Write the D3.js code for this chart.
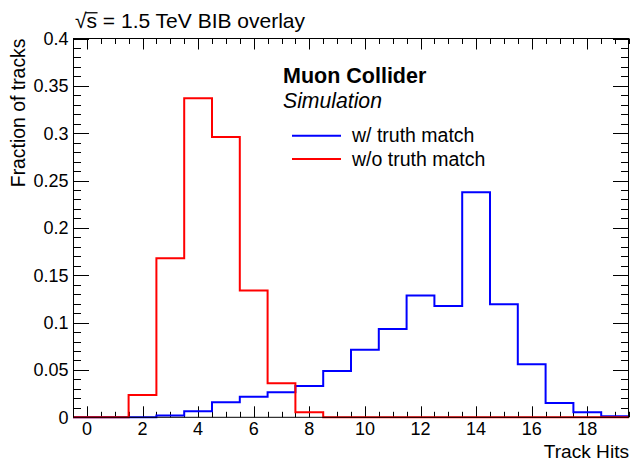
<!DOCTYPE html>
<html><head><meta charset="utf-8">
<script src="https://cdn.jsdelivr.net/npm/d3@7"></script>
<style>body{margin:0;background:#fff}svg{display:block}text{font-family:"Liberation Sans",Arial,sans-serif;fill:#000}</style>
</head><body>
<svg id="c" width="630" height="463"></svg>
<script>
const binCenters = d3.range(0, 20);
const withTruth = [0,0,0,0.002,0.0063,0.016,0.0218,0.0264,0.033,0.049,0.0714,0.0933,0.1285,0.1176,0.2376,0.1194,0.056,0.0151,0.0053,0.001];
const withoutTruth = [0,0,0.0236,0.168,0.337,0.296,0.134,0.0359,0.0053,0,0,0,0,0,0,0,0,0,0,0];
const xTickLabels = [0,2,4,6,8,10,12,14,16,18];
const yTickLabels = [0,0.05,0.1,0.15,0.2,0.25,0.3,0.35,0.4];
const seriesNames = ["w/ truth match","w/o truth match"];
const seriesColors = ["#0000ff","#ff0000"];

const L=73,R=629,T=38.5,B=417.3;
const svg=d3.select("#c");
const x=d3.scaleLinear().domain([-0.5,19.5]).range([L,R]);
const y=d3.scaleLinear().domain([0,0.4]).range([B,T]);

// ticks
const g=svg.append("g").attr("stroke","#000").attr("stroke-width",1);
const xMinor=d3.range(-0.5,19.51,0.5);
xMinor.forEach(v=>{
  const major = xTickLabels.includes(v);
  const len = major?11:5.5;
  const px=Math.round(x(v))+0.5;
  g.append("line").attr("x1",px).attr("x2",px).attr("y1",B).attr("y2",B-len);
  g.append("line").attr("x1",px).attr("x2",px).attr("y1",T).attr("y2",T+len);
});
const yMinor=d3.range(0,0.4001,0.01);
yMinor.forEach(v=>{
  const major = Math.abs(v/0.05-Math.round(v/0.05))<1e-6;
  const len = major?16:8;
  const py=Math.round(y(v))+0.5;
  g.append("line").attr("x1",L).attr("x2",L+len).attr("y1",py).attr("y2",py);
  g.append("line").attr("x1",R).attr("x2",R-len).attr("y1",py).attr("y2",py);
});

// tick labels
xTickLabels.forEach(v=>{
  svg.append("text").attr("x",x(v)).attr("y",435).attr("text-anchor","middle").attr("font-size",18).text(v);
});
yTickLabels.forEach(v=>{
  svg.append("text").attr("x",68.5).attr("y",y(v)+6.3).attr("text-anchor","end").attr("font-size",18).text(v===0?"0":String(v));
});

// histograms
const line=d3.line().x(d=>x(d[0])).y(d=>y(d[1]));
function pts(vals){const p=[];binCenters.forEach((c,i)=>{p.push([c-0.5,vals[i]]);p.push([c+0.5,vals[i]]);});return p;}
[withTruth,withoutTruth].forEach((vals,i)=>{
  svg.append("path").attr("d",line(pts(vals))).attr("fill","none").attr("stroke",seriesColors[i]).attr("stroke-width",2);
});

// frame
svg.append("rect").attr("x",L+0.5).attr("y",T).attr("width",R-L-1).attr("height",B-T).attr("fill","none").attr("stroke","#000").attr("stroke-width",1);

// titles
const title=svg.append("text").attr("x",75).attr("y",28.3).attr("font-size",21).text("√s = 1.5 TeV BIB overlay");
const tn=title.node();
const sx0=tn.getStartPositionOfChar(1).x, sx1=tn.getEndPositionOfChar(1).x;
const oy=28.3-21*0.74;
svg.append("line").attr("x1",sx0-1).attr("x2",sx1+0.5).attr("y1",oy).attr("y2",oy).attr("stroke","#000").attr("stroke-width",1.3);
svg.append("text").attr("transform","translate(25,38.5) rotate(-90)").attr("text-anchor","end").attr("font-size",19.4).text("Fraction of tracks");
svg.append("text").attr("x",629).attr("y",458).attr("text-anchor","end").attr("font-size",19.1).text("Track Hits");
svg.append("text").attr("x",283).attr("y",83.3).attr("font-size",21.5).attr("font-weight","bold").text("Muon Collider");
svg.append("text").attr("x",283).attr("y",108.3).attr("font-size",21.2).attr("font-style","italic").text("Simulation");

// legend
const legY=[135.7,159];
seriesNames.forEach((n,i)=>{
  svg.append("line").attr("x1",292).attr("x2",341).attr("y1",legY[i]).attr("y2",legY[i]).attr("stroke",seriesColors[i]).attr("stroke-width",2);
  svg.append("text").attr("x",352).attr("y",legY[i]+6.5).attr("font-size",19.5).text(n);
});
</script>
</body></html>
